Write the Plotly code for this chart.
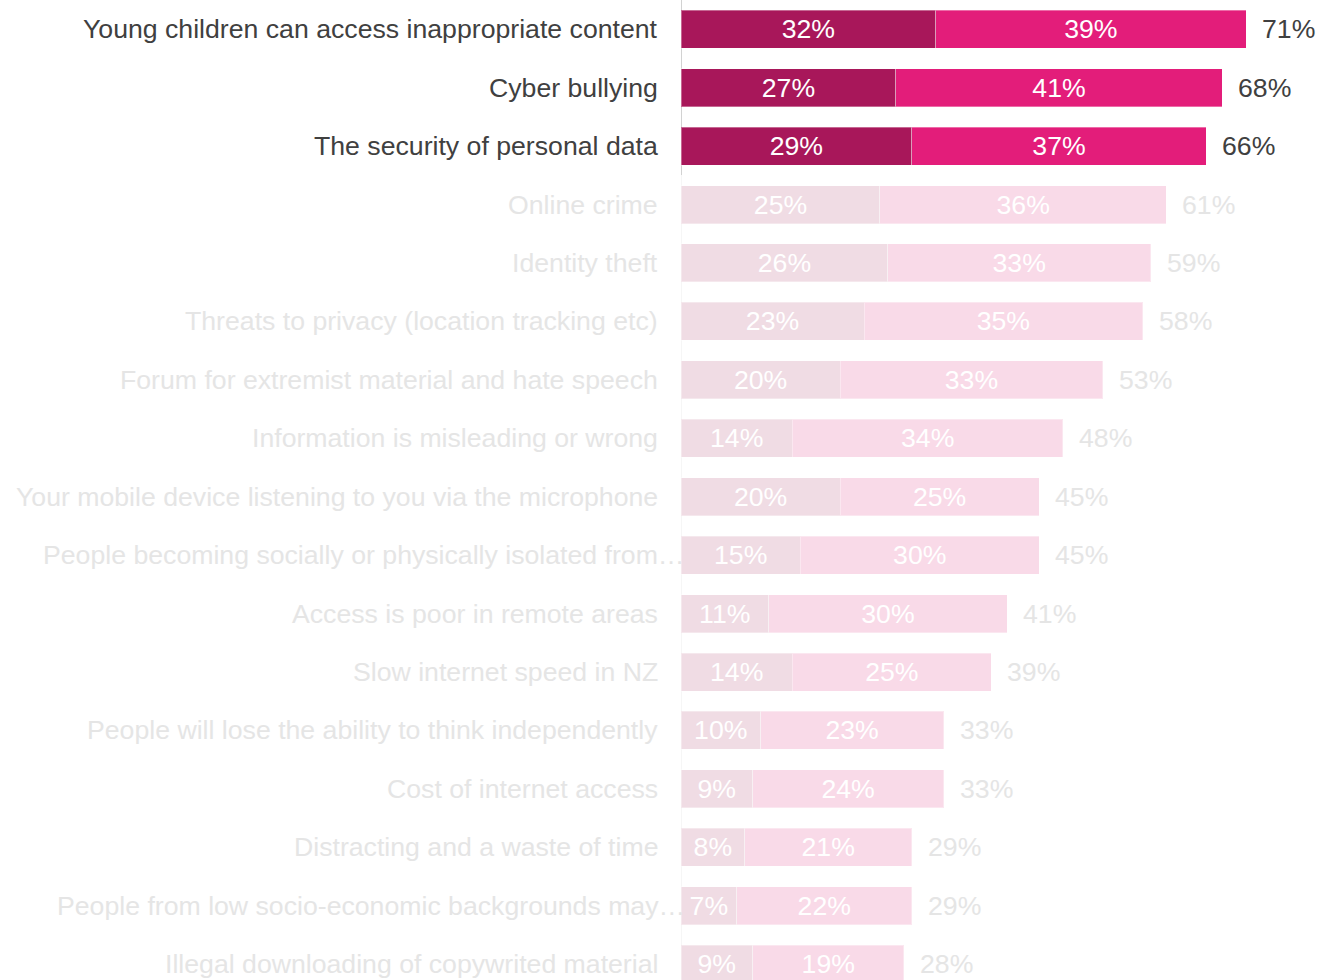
import plotly.graph_objects as go

# Concerns about the internet, share of respondents (%)
categories = [
    "Young children can access inappropriate content",
    "Cyber bullying",
    "The security of personal data",
    "Online crime",
    "Identity theft",
    "Threats to privacy (location tracking etc)",
    "Forum for extremist material and hate speech",
    "Information is misleading or wrong",
    "Your mobile device listening to you via the microphone",
    "People becoming socially or physically isolated from…",
    "Access is poor in remote areas",
    "Slow internet speed in NZ",
    "People will lose the ability to think independently",
    "Cost of internet access",
    "Distracting and a waste of time",
    "People from low socio-economic backgrounds may…",
    "Illegal downloading of copywrited material",
]
very_concerned = [32, 27, 29, 25, 26, 23, 20, 14, 20, 15, 11, 14, 10, 9, 8, 7, 9]
somewhat_concerned = [39, 41, 37, 36, 33, 35, 33, 34, 25, 30, 30, 25, 23, 24, 21, 22, 19]
totals = [71, 68, 66, 61, 59, 58, 53, 48, 45, 45, 41, 39, 33, 33, 29, 29, 28]

highlight_count = 3

DARK_ON, BRIGHT_ON = "#A8175A", "#E31D7A"
DARK_OFF, BRIGHT_OFF = "#F0DCE4", "#F9DAE8"
TEXT_ON, TEXT_OFF = "#404040", "#E5E5E5"
FONT = "Liberation Sans, Arial, sans-serif"
SIZE = 26.67

n = len(categories)
on = [i < highlight_count for i in range(n)]

fig = go.Figure()
for vals, c_on, c_off in ((very_concerned, DARK_ON, DARK_OFF),
                          (somewhat_concerned, BRIGHT_ON, BRIGHT_OFF)):
    fig.add_trace(go.Bar(
        y=categories, x=vals, orientation="h",
        marker=dict(color=[c_on if h else c_off for h in on],
                    line=dict(color="rgba(255,255,255,0.35)", width=1)),
        text=[f"{v}%" for v in vals],
        textposition="inside", insidetextanchor="middle", textangle=0,
        textfont=dict(family=FONT, size=SIZE, color="white"),
        width=0.65, hoverinfo="skip",
    ))

for cat, tot, h in zip(categories, totals, on):
    color = TEXT_ON if h else TEXT_OFF
    # total to the right of each bar
    fig.add_annotation(
        x=tot, y=cat, text=f"{tot}%", showarrow=False,
        xanchor="left", yanchor="middle", xshift=14,
        font=dict(family=FONT, size=SIZE, color=color),
    )
    # category label left of the axis; truncated labels run up to the axis
    fig.add_annotation(
        x=0, y=cat, text=cat, showarrow=False,
        xanchor="right", yanchor="middle",
        xshift=6 if cat.endswith("…") else -21,
        font=dict(family=FONT, size=SIZE, color=color),
    )

# Axis baseline: solid next to the highlighted rows, faint below
fig.add_shape(type="line", xref="x", yref="y", x0=0, x1=0,
              y0=-0.5, y1=highlight_count - 0.5,
              line=dict(color="#D2D2D2", width=2), layer="below")
fig.add_shape(type="line", xref="x", yref="y", x0=0, x1=0,
              y0=highlight_count - 0.5, y1=n,
              line=dict(color="#F6F6F6", width=2), layer="below")

fig.update_layout(
    barmode="stack",
    width=1319, height=980,
    margin=dict(l=681, r=0, t=0, b=0),
    paper_bgcolor="white", plot_bgcolor="white",
    showlegend=False,
    font=dict(family=FONT, size=SIZE, color=TEXT_ON),
    xaxis=dict(range=[0, 80.17], visible=False, fixedrange=True),
    yaxis=dict(
        type="category", categoryorder="array", categoryarray=categories,
        range=[16.27, -0.5], autorange=False,
        showticklabels=False, showline=False, showgrid=False,
        zeroline=False, ticks="", fixedrange=True,
    ),
)

fig.write_html("out.html")
